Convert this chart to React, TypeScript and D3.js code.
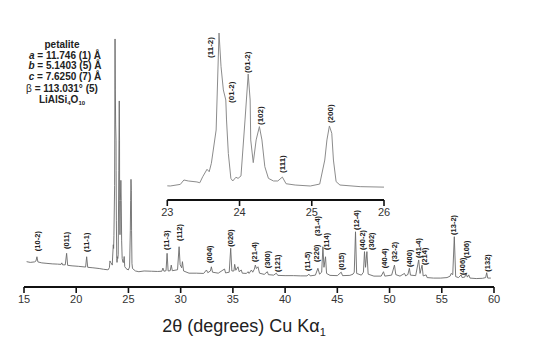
import React from 'react';
import * as d3 from 'd3';

const twoTheta = [
  15.25, 15.6, 16.0, 16.15, 16.24, 16.33, 16.7, 17.2, 17.7, 18.2, 18.55, 18.62, 18.7, 18.95, 19.08, 19.18,
  19.6, 20.2, 20.9, 21.0, 21.1, 21.6, 22.2, 22.6, 23.0,
  23.04, 23.18, 23.23, 23.29, 23.41, 23.45, 23.49, 23.55, 23.58, 23.61, 23.676, 23.716, 23.744, 23.776,
  23.81, 23.82, 23.845, 23.88, 23.906, 23.95, 23.98, 24.02, 24.076, 24.12, 24.147, 24.155, 24.19, 24.23,
  24.275, 24.31, 24.35, 24.40, 24.47, 24.53, 24.593, 24.644, 24.77, 24.98, 25.11, 25.18, 25.21, 25.244,
  25.277, 25.30, 25.337, 25.39, 25.67, 26.0,
  26.5, 27.2, 27.8, 28.2, 28.3, 28.4, 28.6, 28.7, 28.8, 29.0, 29.1, 29.2, 29.7, 29.85, 29.95, 30.1, 30.17,
  30.28, 30.8, 31.5, 32.2, 32.47, 32.6, 32.85, 32.94, 33.05, 33.6, 34.2, 34.3, 34.65, 34.79, 34.9, 35.1,
  35.17, 35.28, 35.49, 35.6, 35.8, 35.9, 36.3, 36.45, 36.55, 36.77, 36.9, 37.05, 37.15, 37.25, 37.4, 37.55,
  38.0, 38.3, 38.4, 38.9, 39.16, 39.3, 40.0, 40.8, 41.5, 42.1, 42.28, 42.4, 42.9, 43.14, 43.3, 43.5, 43.62,
  43.72, 43.87, 43.97, 44.3, 45.0, 45.37, 45.5, 46.2, 46.5, 46.62, 46.74, 46.85, 47.3, 47.5, 47.6, 47.7,
  47.83, 47.95, 48.5, 49.2, 49.42, 49.55, 50.2, 50.47, 50.6, 51.0, 51.43, 51.55, 51.65, 51.75, 51.9, 52.0,
  52.5, 52.79, 52.92, 53.11, 53.22, 53.5, 53.6, 54.2, 54.9, 55.5, 55.8, 55.9, 56.05, 56.2, 56.33, 56.6,
  56.85, 56.95, 57.2, 57.32, 57.45, 57.58, 57.7, 58.3, 58.9, 59.2, 59.3, 59.4, 59.7,
];
const counts = [
  83, 80, 82, 86, 103, 82, 78, 76, 74, 73, 72, 78, 70, 70, 117, 68,
  66, 64, 61, 103, 60, 58, 55, 52, 50,
  49, 59, 86, 80, 74, 69, 106, 152, 137, 189, 394, 992, 784, 641,
  579, 456, 250, 96, 80, 103, 96, 111, 456, 739, 579, 333, 193, 333,
  415, 333, 168, 96, 80, 80, 104, 63, 55, 49, 61, 209, 333, 419,
  374, 209, 76, 55, 45, 42,
  45, 44, 43, 44, 57, 44, 46, 117, 45, 46, 69, 46, 50, 144, 70, 58, 83,
  45, 36, 36, 35, 49, 38, 45, 62, 40, 36, 53, 37, 40, 138, 45, 45,
  72, 48, 62, 42, 49, 36, 35, 42, 35, 49, 40, 52, 69, 55, 62, 36,
  31, 42, 30, 28, 36, 27, 26, 26, 25, 25, 32, 25, 28, 56, 32, 40, 144,
  60, 103, 35, 27, 26, 40, 26, 27, 32, 40, 205, 35, 28, 40, 124, 60,
  124, 32, 24, 24, 42, 24, 28, 69, 30, 24, 35, 24, 29, 30, 56, 28,
  26, 90, 35, 69, 25, 29, 18, 16, 16, 18, 24, 35, 30, 185, 22, 18,
  29, 18, 20, 35, 20, 29, 16, 14, 15, 18, 38, 16, 16,
];

// Main-pattern reflection labels: hkl, 2θ of label, intensity at label foot
const mainHkl = ['(10-2)', '(011)', '(11-1)', '(11-3)', '(112)', '(004)', '(020)', '(21-4)', '(300)', '(121)',
  '(11-5)', '(220)', '(31-4)', '(114)', '(015)', '(12-4)', '(40-2)', '(302)', '(40-4)', '(32-2)', '(400)',
  '(41-4)', '(214)', '(13-2)', '(406)', '(106)', '(132)'];
const mainHklTheta = [16.24, 19.02, 20.93, 28.67, 29.91, 32.78, 34.79, 37.08, 38.3, 39.22,
  42.13, 42.98, 43.08, 43.94, 45.37, 46.81, 47.44, 48.24, 49.51, 50.47, 51.9,
  52.79, 53.34, 56.14, 56.94, 57.38, 59.39];
const mainHklLevel = [126, 135, 122, 131, 167, 78, 144, 82, 56, 41,
  45, 82, 188, 131, 49, 212, 131, 131, 56, 83, 61,
  98, 69, 192, 29, 98, 42];

// Inset reflection labels
const insetHkl = ['(11-2)', '(01-2)', '(01-2)', '(102)', '(111)', '(200)'];
const insetHklTheta = [23.594, 23.88, 24.11, 24.28, 24.59, 25.25];
const insetHklLevel = [838, 561, 746, 425, 129, 437];

const mainTicks = [15, 20, 25, 30, 35, 40, 45, 50, 55, 60];
const insetTicks = [23, 24, 25, 26];

const FONT = "'Liberation Sans', Arial, Helvetica, sans-serif";

export default function App() {
  const W = 550, H = 349;
  const pts = twoTheta.map((t, i) => [t, counts[i]] as [number, number]);

  const xMain = d3.scaleLinear().domain([15, 60]).range([24, 494]);
  const yMain = d3.scaleLinear().domain([0, 1000]).range([282, 37]);
  const xIn = d3.scaleLinear().domain([23, 26]).range([167.3, 384]);
  const yIn = d3.scaleLinear().domain([49, 992]).range([186, 33]);

  const mainLine = d3.line<[number, number]>().x(d => xMain(d[0])).y(d => yMain(d[1]))(pts) || '';
  const insetPts = pts.filter(d => d[0] >= 23 && d[0] <= 26);
  const insetLine = d3.line<[number, number]>().x(d => xIn(d[0])).y(d => yIn(d[1]))(insetPts) || '';

  const mainAxisY = 287;
  const insetAxisY = 200;

  return (
    <svg width={W} height={H} style={{ position: 'absolute', left: 0, top: 0, background: '#fff' }}
      fontFamily={FONT}>
      <rect x={0} y={0} width={W} height={H} fill="#fff" />
      {/* info block */}
      <g fontWeight="bold" fontSize={10} textAnchor="middle" fill="#222">
        <text x={62} y={47.5}>petalite</text>
        <text x={65} y={58.5}><tspan fontStyle="italic">a</tspan> = 11.746 (1) Å</text>
        <text x={65} y={69}><tspan fontStyle="italic">b</tspan> = 5.1403 (5) Å</text>
        <text x={65} y={80}><tspan fontStyle="italic">c</tspan> = 7.6250 (7) Å</text>
        <text x={62} y={91.5}><tspan fontWeight="normal">β</tspan> = 113.031° (5)</text>
        <text x={62} y={102.5}>LiAlSi<tspan fontSize={6} dy={2}>4</tspan><tspan dy={-2}>O</tspan><tspan fontSize={6} dy={2}>10</tspan></text>
      </g>

      {/* main trace */}
      <path d={mainLine} fill="none" stroke="#6a6a6a" strokeWidth={0.9} />

      {/* main axis */}
      <line x1={xMain(15)} x2={xMain(60)} y1={mainAxisY} y2={mainAxisY} stroke="#111" strokeWidth={2} />
      {mainTicks.map(t => (
        <g key={t}>
          <line x1={xMain(t)} x2={xMain(t)} y1={mainAxisY} y2={mainAxisY + 6} stroke="#111" strokeWidth={1.6} />
          <text x={xMain(t)} y={mainAxisY + 16} fontSize={11} textAnchor="middle" fill="#333">{t}</text>
        </g>
      ))}
      <text x={244} y={332} fontSize={18} textAnchor="middle" fill="#222">
        2θ (degrees) Cu Kα<tspan fontSize={11} dy={4}>1</tspan>
      </text>

      {/* main labels */}
      <g fontSize={7.5} fontWeight="bold" fill="#222">
        {mainHkl.map((h, i) => {
          const x = xMain(mainHklTheta[i]);
          const y = yMain(mainHklLevel[i]);
          return (
            <text key={i} transform={`translate(${x},${y}) rotate(-90)`} dy="0.35em" textAnchor="start">{h}</text>
          );
        })}
      </g>

      {/* inset */}
      <path d={insetLine} fill="none" stroke="#8c8c8c" strokeWidth={1} />
      <line x1={xIn(23)} x2={xIn(26)} y1={insetAxisY} y2={insetAxisY} stroke="#111" strokeWidth={2} />
      {insetTicks.map(t => (
        <g key={t}>
          <line x1={xIn(t)} x2={xIn(t)} y1={insetAxisY} y2={insetAxisY + 6} stroke="#111" strokeWidth={1.6} />
          <text x={xIn(t)} y={insetAxisY + 16} fontSize={11} textAnchor="middle" fill="#333">{t}</text>
        </g>
      ))}
      <g fontSize={8} fontWeight="bold" fill="#222">
        {insetHkl.map((h, i) => {
          const x = xIn(insetHklTheta[i]);
          const y = yIn(insetHklLevel[i]);
          return (
            <text key={i} transform={`translate(${x},${y}) rotate(-90)`} dy="0.35em" textAnchor="start">{h}</text>
          );
        })}
      </g>
    </svg>
  );
}
